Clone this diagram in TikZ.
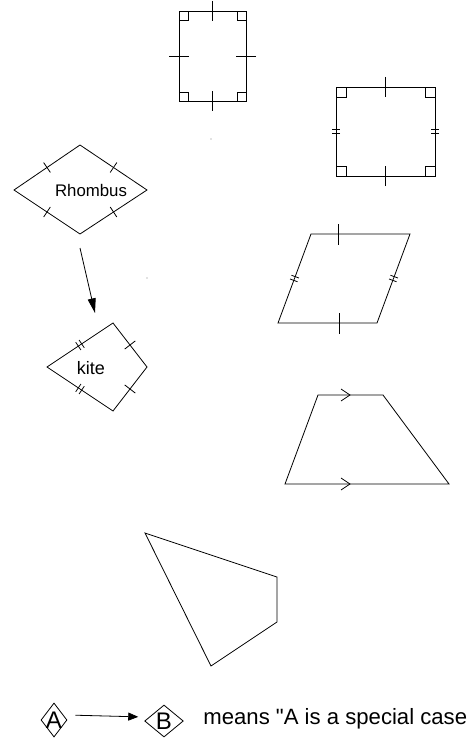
\documentclass[tikz,border=0pt]{standalone}
\usepackage{fontspec}
\setmainfont{Liberation Sans}
\usetikzlibrary{arrows.meta,calc,shapes.geometric,positioning}

% one tick / two ticks across the side #1--#2, half length #3
\newcommand{\onetick}[3]{%
	\draw ($(#1)!0.5!(#2)!#3!90:(#2)$) -- ($(#1)!0.5!(#2)!#3!-90:(#2)$);}
\newcommand{\twotick}[3]{%
	\coordinate (tk) at ($(#1)!0.5!(#2)$);
	\draw ($(tk)!1.5pt!(#1)!#3!-90:(#2)$) -- ($(tk)!1.5pt!(#1)!#3!90:(#2)$);
	\draw ($(tk)!1.5pt!(#2)!#3!90:(#2)$) -- ($(tk)!1.5pt!(#2)!#3!-90:(#2)$);}

\tikzset{
	shapename/.style={font=\fontsize{12.6}{15}\selectfont, inner sep=0pt},
	tag/.style={diamond, draw, inner sep=0pt, label={[font=\fontsize{18}{20}\selectfont]center:#1}},
	special/.style={-{Triangle[length=#1, width=6pt]}}
}

\begin{document}
\begin{tikzpicture}[x=0.75pt, y=-0.75pt, line width=0.6pt]
			\useasboundingbox (0,0) rectangle (470,738);
			% rectangle
			\coordinate (r1) at (179,11);
			\coordinate (r2) at (246,11);
			\coordinate (r3) at (246,101);
			\coordinate (r4) at (179,101);
			\draw (r1) -- (r2) -- (r3) -- (r4) -- cycle;
			\draw (r1) rectangle +(9,9);
			\draw (r2) rectangle +(-9,9);
			\draw (r3) rectangle +(-9,-9);
			\draw (r4) rectangle +(9,-9);
			\onetick{r1}{r2}{7.5pt}
			\onetick{r2}{r3}{7.5pt}
			\onetick{r3}{r4}{7.5pt}
			\onetick{r4}{r1}{7.5pt}
			\fill[gray] (211,139) circle (0.5pt);
			% square
			\coordinate (s1) at (336,87);
			\coordinate (s2) at (435,87);
			\coordinate (s3) at (435,176);
			\coordinate (s4) at (336,176);
			\draw (s1) -- (s2) -- (s3) -- (s4) -- cycle;
			\draw (s1) rectangle +(10,10);
			\draw (s2) rectangle +(-10,10);
			\draw (s3) rectangle +(-10,-10);
			\draw (s4) rectangle +(10,-10);
			\onetick{s1}{s2}{7.5pt}
			\onetick{s3}{s4}{7.5pt}
			\twotick{s2}{s3}{3pt}
			\twotick{s4}{s1}{3pt}
			% rhombus
			\coordinate (h1) at (14,190);
			\coordinate (h2) at (80,145);
			\coordinate (h3) at (147,190);
			\coordinate (h4) at (80,234);
			\draw (h1) -- (h2) -- (h3) -- (h4) -- cycle;
			\onetick{h1}{h2}{4.5pt}
			\onetick{h2}{h3}{4.5pt}
			\onetick{h3}{h4}{4.5pt}
			\onetick{h4}{h1}{4.5pt}
			\node[shapename] (rhombus) at (91,190) {Rhombus};
			% parallelogram
			\coordinate (p1) at (311,234);
			\coordinate (p2) at (410,234);
			\coordinate (p3) at (377,323);
			\coordinate (p4) at (278,323);
			\draw (p1) -- (p2) -- (p3) -- (p4) -- cycle;
			\draw (338,224) -- (338,245);
			\draw (339,313) -- (339,334);
			\twotick{p2}{p3}{3pt}
			\twotick{p4}{p1}{3pt}
			% rhombus -> kite
			\coordinate (rharrow) at (80,248);
			\coordinate (kitearrow) at (95,313);
			\draw[special=11pt] (rharrow) -- (kitearrow);
			\fill[gray] (147,278) circle (0.5pt);
			% kite
			\coordinate (k1) at (113,323);
			\coordinate (k2) at (147,367);
			\coordinate (k3) at (113,411);
			\coordinate (k4) at (47,367);
			\draw (k1) -- (k2) -- (k3) -- (k4) -- cycle;
			\onetick{k1}{k2}{5pt}
			\onetick{k2}{k3}{5pt}
			\twotick{k3}{k4}{3.5pt}
			\twotick{k4}{k1}{3.5pt}
			\node[shapename, font=\fontsize{13.5}{15}\selectfont] (kite) at (91,368) {kite};
			% trapezium
			\coordinate (t1) at (318,395);
			\coordinate (t2) at (383,395);
			\coordinate (t3) at (449,484);
			\coordinate (t4) at (285,484);
			\draw (t1) -- (t2) -- (t3) -- (t4) -- cycle;
			\draw (341,389) -- (350,395) -- (341,401);
			\draw (341,478) -- (350,484) -- (341,490);
			% quadrilateral
			\coordinate (q1) at (145,533);
			\coordinate (q2) at (277,577);
			\coordinate (q3) at (277,622);
			\coordinate (q4) at (211,666);
			\draw (q1) -- (q2) -- (q3) -- (q4) -- cycle;
			% legend
			\node[tag=A, minimum width=19.5pt, minimum height=25.5pt] (A) at (54,720) {};
			\node[tag=B, minimum width=29pt, minimum height=24pt] (B) at (164,721) {};
			\draw[special=7.5pt, shorten <=6pt, shorten >=4.5pt] ([yshift=3.75pt]A.east) -- ([yshift=3pt]B.west);
			\node[anchor=west, inner sep=0pt, font=\fontsize{16.6}{19}\selectfont] (means) at (203,719) {means \textquotedbl A is a special case};
\end{tikzpicture}
\end{document}
